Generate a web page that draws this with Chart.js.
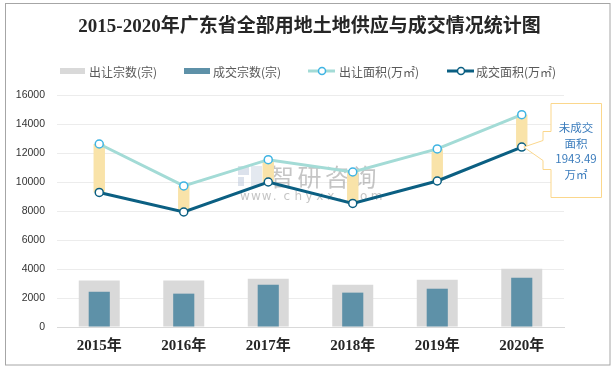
<!DOCTYPE html>
<html>
<head>
<meta charset="utf-8">
<script src="https://cdn.jsdelivr.net/npm/chart.js@4"></script>
<style>
  html, body { margin: 0; padding: 0; background: #fff; }
  #wrap { width: 616px; height: 369px; position: relative; }
</style>
</head>
<body>
<div id="wrap"><canvas id="landChart" width="616" height="369"></canvas></div>
<script>
// ---- data ----
const years = ['2015年', '2016年', '2017年', '2018年', '2019年', '2020年'];
const supplyCount = [3200, 3200, 3330, 2920, 3260, 4020];   // 出让宗数(宗)
const dealCount = [2430, 2300, 2920, 2370, 2640, 3400];     // 成交宗数(宗)
const supplyArea = [12620, 9730, 11540, 10690, 12280, 14640]; // 出让面积(万㎡)
const dealArea = [9280, 7930, 10000, 8520, 10070, 12410];     // 成交面积(万㎡)
const yMax = 16000;
const yStep = 2000;

const titleText = '2015-2020年广东省全部用地土地供应与成交情况统计图';
const calloutLines = ['未成交', '面积', '1943.49', '万㎡'];

const C_GREY = '#d9d9d9';
const C_BLUE = '#5e91a8';
const C_LIGHT = '#a3dbd6';
const C_DARK = '#0b5f82';
const C_GAP = '#f9e3a9';

// gap bars between the two area lines
const gapRange = dealArea.map((v, i) => [v, supplyArea[i]]);

// title, legend, frame, watermark, callout
const decorPlugin = {
  id: 'decor',
  beforeDatasetsDraw(chart) {
    const ctx = chart.ctx;
    ctx.save();
    // watermark
    ctx.globalAlpha = 0.5;
    ctx.fillStyle = '#b9c6da';
    ctx.fillRect(238, 166, 11, 9);
    ctx.fillRect(238, 177, 6, 9);
    ctx.fillStyle = '#c9d3e2';
    ctx.fillRect(251, 166, 11, 20);
    ctx.fillStyle = '#8c8c8c';
    ctx.font = '24px "Noto Sans CJK SC"';
    ctx.textBaseline = 'middle';
    ctx.textAlign = 'left';
    ['智', '研', '咨', '询'].forEach((ch, i) => ctx.fillText(ch, 270 + i * 27.5, 177));
    ctx.font = '12px "DejaVu Sans"';
    'www.chyxx.com'.split('').forEach((ch, i) => ctx.fillText(ch, 240 + i * 10.9, 197));
    ctx.restore();
  },
  afterDraw(chart) {
    const ctx = chart.ctx;
    ctx.save();
    // frame
    ctx.strokeStyle = '#a6a6a6';
    ctx.lineWidth = 1;
    ctx.strokeRect(5.5, 3.5, 604.5, 361.5);

    // title
    ctx.fillStyle = '#262626';
    ctx.font = 'bold 19px "Liberation Serif", "Noto Sans CJK SC"';
    ctx.textAlign = 'center';
    ctx.textBaseline = 'middle';
    ctx.fillText(titleText, 309.5, 27);

    // legend
    const ly = 71;
    ctx.font = '12px "Noto Sans CJK SC"';
    ctx.textAlign = 'left';
    ctx.fillStyle = C_GREY;
    ctx.fillRect(60, ly - 3, 25, 6);
    ctx.fillStyle = C_BLUE;
    ctx.fillRect(184, ly - 3, 26, 6);
    const lineItem = (x, col, ptCol) => {
      ctx.strokeStyle = col;
      ctx.lineWidth = 3;
      ctx.beginPath();
      ctx.moveTo(x, ly); ctx.lineTo(x + 27, ly); ctx.stroke();
      ctx.beginPath();
      ctx.arc(x + 14, ly, 3.5, 0, Math.PI * 2);
      ctx.fillStyle = '#fff'; ctx.fill();
      ctx.lineWidth = 1.5; ctx.strokeStyle = ptCol; ctx.stroke();
    };
    lineItem(308, C_LIGHT, '#3fb4e3');
    lineItem(447, C_DARK, C_DARK);
    ctx.fillStyle = '#595959';
    ctx.fillText('出让宗数(宗)', 89, ly + 1);
    ctx.fillText('成交宗数(宗)', 213, ly + 1);
    ctx.fillText('出让面积(万㎡)', 339, ly + 1);
    ctx.fillText('成交面积(万㎡)', 476, ly + 1);

    // callout pointing to the 2020 gap
    const xs = chart.scales.x, ys = chart.scales.y;
    const tipX = xs.getPixelForValue(5) + 2;
    const tipY = ys.getPixelForValue(dealArea[5]);
    ctx.beginPath();
    ctx.moveTo(551, 103.5);
    ctx.lineTo(551, 131.5);
    ctx.lineTo(543, 131.5);
    ctx.lineTo(543, 140.5);
    ctx.lineTo(tipX, tipY);
    ctx.lineTo(543, 160.5);
    ctx.lineTo(543, 169.5);
    ctx.lineTo(551, 169.5);
    ctx.lineTo(551, 197.5);
    ctx.lineTo(601.5, 197.5);
    ctx.lineTo(601.5, 103.5);
    ctx.closePath();
    ctx.fillStyle = '#fff';
    ctx.fill();
    ctx.strokeStyle = '#fbd78c';
    ctx.lineWidth = 1;
    ctx.stroke();
    ctx.fillStyle = '#3b7cbc';
    ctx.font = '11.5px "Noto Sans CJK SC"';
    ctx.textAlign = 'center';
    const lyPos = [128, 143.5, 159, 174.5];
    calloutLines.forEach((t, i) => ctx.fillText(t, 576, lyPos[i]));
    ctx.restore();
  }
};

new Chart(document.getElementById('landChart'), {
  type: 'bar',
  data: {
    labels: years,
    datasets: [
      {
        type: 'line', label: '出让面积(万㎡)', data: supplyArea, order: 0,
        borderColor: C_LIGHT, borderWidth: 3, tension: 0,
        pointRadius: 4, pointBackgroundColor: '#fff', pointBorderColor: '#3fb4e3', pointBorderWidth: 1.5
      },
      {
        type: 'line', label: '成交面积(万㎡)', data: dealArea, order: 0,
        borderColor: C_DARK, borderWidth: 3, tension: 0,
        pointRadius: 4, pointBackgroundColor: '#fff', pointBorderColor: C_DARK, pointBorderWidth: 1.5
      },
      {
        label: 'gap', data: gapRange, order: 1, grouped: false,
        backgroundColor: C_GAP, barPercentage: 0.135, categoryPercentage: 1
      },
      {
        label: '成交宗数(宗)', data: dealCount, order: 2, grouped: false,
        backgroundColor: C_BLUE, barPercentage: 0.25, categoryPercentage: 1
      },
      {
        label: '出让宗数(宗)', data: supplyCount, order: 3, grouped: false,
        backgroundColor: C_GREY, barPercentage: 0.485, categoryPercentage: 1
      }
    ]
  },
  options: {
    responsive: false,
    animation: false,
    layout: { padding: { top: 95, right: 52, left: 0, bottom: 0 } },
    plugins: { legend: { display: false }, tooltip: { enabled: false }, title: { display: false } },
    scales: {
      x: {
        offset: true,
        grid: { display: false, drawTicks: false },
        border: { color: '#d9d9d9', width: 1 },
        ticks: {
          color: '#262626', padding: 10,
          font: { family: '"Liberation Serif", "Noto Sans CJK SC"', size: 15, weight: 'bold' }
        },
        afterFit(scale) { scale.height = 42; }
      },
      y: {
        min: 0, max: yMax,
        grid: { color: '#ececec', drawTicks: false },
        border: { display: false },
        ticks: {
          stepSize: yStep, padding: 12, color: '#333',
          font: { family: '"Liberation Sans"', size: 10.5 },
          callback: (v) => String(v)
        },
        afterFit(scale) { scale.width = 57; }
      }
    }
  },
  plugins: [decorPlugin]
});
</script>
</body>
</html>
